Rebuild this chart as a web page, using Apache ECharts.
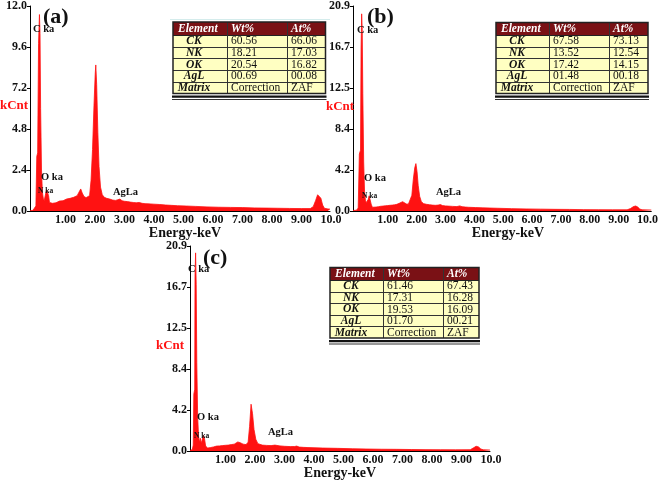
<!DOCTYPE html>
<html><head><meta charset="utf-8">
<script src="https://cdn.jsdelivr.net/npm/echarts@6/dist/echarts.min.js"></script>
<style>html,body{margin:0;padding:0;background:#fff}#c{width:661px;height:480px}</style>
</head><body><div id="c"></div>
<script>
// ---------- data ----------
const specA = [[0.00,0.02],[0.10,0.04],[0.16,0.08],[0.20,0.3],[0.23,3.2],[0.26,3.4],[0.29,9.8],[0.32,11.5],[0.34,10.4],[0.36,6.0],[0.39,2.4],[0.42,1.1],[0.45,0.75],[0.48,0.6],[0.52,0.7],[0.56,1.25],[0.6,1.29],[0.63,0.9],[0.66,0.5],[0.7,0.42],[0.76,0.45],[0.82,0.5],[0.88,0.48],[0.94,0.55],[1.0,0.58],[1.06,0.62],[1.12,0.6],[1.18,0.66],[1.24,0.7],[1.3,0.68],[1.36,0.74],[1.42,0.72],[1.48,0.8],[1.54,0.78],[1.6,0.9],[1.66,1.1],[1.72,1.29],[1.77,1.05],[1.83,0.85],[1.9,0.78],[1.96,0.74],[2.02,0.9],[2.07,1.8],[2.12,3.6],[2.17,6.2],[2.21,8.0],[2.23,8.55],[2.26,7.4],[2.3,4.6],[2.34,2.6],[2.39,1.4],[2.45,0.95],[2.52,0.8],[2.6,0.74],[2.7,0.7],[2.8,0.64],[2.9,0.62],[2.98,0.66],[3.05,0.7],[3.12,0.6],[3.2,0.57],[3.3,0.55],[3.4,0.52],[3.5,0.5],[3.6,0.48],[3.7,0.5],[3.8,0.45],[3.9,0.43],[4.0,0.42],[4.2,0.4],[4.4,0.38],[4.6,0.35],[4.8,0.33],[5.0,0.31],[5.3,0.29],[5.6,0.27],[6.0,0.24],[6.4,0.22],[6.8,0.21],[7.2,0.2],[7.6,0.18],[8.0,0.17],[8.4,0.16],[8.8,0.15],[9.2,0.14],[9.5,0.14],[9.6,0.25],[9.68,0.6],[9.75,0.95],[9.8,0.98],[9.86,0.75],[9.92,0.35],[9.98,0.16],[10.1,0.12],[10.17,0.11]];
const specB = [[0.00,0.05],[0.12,0.08],[0.18,0.3],[0.22,5.8],[0.26,6.2],[0.28,16.5],[0.30,20.1],[0.32,18.5],[0.34,12.0],[0.37,5.0],[0.40,2.0],[0.43,1.1],[0.46,0.85],[0.5,0.8],[0.53,1.2],[0.56,1.55],[0.6,1.4],[0.63,0.7],[0.67,0.38],[0.72,0.35],[0.8,0.4],[0.88,0.44],[0.96,0.48],[1.04,0.5],[1.12,0.53],[1.2,0.55],[1.28,0.58],[1.36,0.6],[1.44,0.63],[1.52,0.68],[1.6,0.78],[1.66,0.92],[1.72,0.95],[1.78,0.8],[1.85,0.72],[1.92,0.7],[1.98,0.82],[2.04,1.6],[2.09,3.2],[2.14,4.4],[2.18,4.83],[2.22,4.0],[2.26,2.6],[2.31,1.5],[2.37,0.95],[2.45,0.75],[2.55,0.68],[2.65,0.64],[2.75,0.6],[2.85,0.58],[2.95,0.6],[3.03,0.65],[3.1,0.56],[3.2,0.52],[3.3,0.5],[3.45,0.47],[3.6,0.45],[3.7,0.52],[3.78,0.44],[3.9,0.4],[4.0,0.38],[4.25,0.35],[4.5,0.32],[4.75,0.3],[5.0,0.28],[5.5,0.24],[6.0,0.21],[6.5,0.19],[7.0,0.17],[7.5,0.16],[8.0,0.14],[8.5,0.13],[9.0,0.12],[9.5,0.12],[9.62,0.25],[9.72,0.45],[9.8,0.51],[9.87,0.4],[9.94,0.2],[10.02,0.12],[10.34,0.1]];
const specC = [[0.00,0.05],[0.08,0.15],[0.11,0.6],[0.13,5.8],[0.16,6.3],[0.17,17.8],[0.19,20.2],[0.21,17.0],[0.23,9.0],[0.26,3.5],[0.29,1.5],[0.32,0.9],[0.35,1.3],[0.38,0.8],[0.41,1.1],[0.45,1.6],[0.49,1.3],[0.53,0.5],[0.6,0.3],[0.7,0.35],[0.8,0.42],[0.9,0.5],[1.0,0.52],[1.1,0.55],[1.2,0.58],[1.3,0.6],[1.4,0.65],[1.5,0.7],[1.55,0.8],[1.62,0.92],[1.7,0.85],[1.8,0.7],[1.9,0.65],[1.97,0.9],[2.02,2.5],[2.07,4.77],[2.12,3.8],[2.17,2.2],[2.23,1.2],[2.3,0.75],[2.45,0.6],[2.6,0.57],[2.75,0.55],[2.88,0.6],[2.94,0.65],[3.05,0.52],[3.2,0.48],[3.4,0.45],[3.55,0.46],[3.62,0.5],[3.7,0.4],[3.85,0.37],[4.0,0.35],[4.5,0.3],[5.0,0.27],[5.5,0.23],[6.0,0.2],[6.5,0.18],[7.0,0.17],[7.5,0.15],[8.0,0.14],[8.5,0.13],[9.0,0.12],[9.5,0.13],[9.6,0.3],[9.7,0.48],[9.78,0.42],[9.86,0.2],[9.95,0.12],[10.17,0.1]];

const yMaxA = 12.0, yStepA = 2.4;
const yMaxBC = 20.9, yStepBC = 4.18;
const xTickLabels = [1,2,3,4,5,6,7,8,9,10];

const tableHeader = ['Element','Wt%','At%'];
const elements = ['CK','NK','OK','AgL','Matrix'];
const wtA = ['60.56','18.21','20.54','00.69','Correction'];
const atA = ['66.06','17.03','16.82','00.08','ZAF'];
const wtB = ['67.58','13.52','17.42','01.48','Correction'];
const atB = ['73.13','12.54','14.15','00.18','ZAF'];
const wtC = ['61.46','17.31','19.53','01.70','Correction'];
const atC = ['67.43','16.28','16.09','00.21','ZAF'];

const panelLabels = ['(a)','(b)','(c)'];
const peakLabels = ['C ka','O ka','N ka','AgLa'];

// ---------- chart ----------
const SERIF = '"Liberation Serif", "DejaVu Serif", serif';
const RED = '#ff1212';
const chart = echarts.init(document.getElementById('c'), null, {renderer:'canvas'});

function xAxisDef(gi, max){
  return {
    type:'value', gridIndex:gi, min:0, max:max, interval:1,
    axisLine:{show:true, onZero:false, lineStyle:{color:'#000', width:1}},
    axisTick:{show:false},
    splitLine:{show:false},
    axisLabel:{
      customValues: xTickLabels,
      formatter: v => v === 10 ? '10.0' : v.toFixed(2),
      color:'#111', fontFamily:SERIF, fontWeight:'bold', fontSize:12,
      margin:3, padding:[0,0,0,12], showMaxLabel:true
    }
  };
}
function yAxisDef(gi, max, step){
  return {
    type:'value', gridIndex:gi, min:0, max:max, interval:step,
    axisLine:{show:true, lineStyle:{color:'#000', width:1}},
    axisTick:{show:true, length:3, lineStyle:{color:'#000'}},
    splitLine:{show:false},
    axisLabel:{formatter: v => v.toFixed(1), color:'#111', fontFamily:SERIF, fontWeight:'bold', fontSize:12, margin:3}
  };
}
function spec(gi, data){
  return {type:'line', xAxisIndex:gi, yAxisIndex:gi, data:data, showSymbol:false, symbol:'none',
    lineStyle:{color:RED, width:0.8}, areaStyle:{color:RED, opacity:1}, silent:true, animation:false, z:2};
}

function txt(t, x, y, font, fill, align){
  return {type:'text', z:10, style:{text:t, x:x, y:y, font:font, fill:fill||'#111', textAlign:align||'left', textVerticalAlign:'middle'}};
}

function table(x0, y0, cw, hh, rh, wt, at){
  const g = [];
  const W = cw[0]+cw[1]+cw[2], H = hh + rh*5;
  g.push({type:'rect', z:5, shape:{x:x0, y:y0, width:W, height:H}, style:{fill:'#ffffc2'}});
  g.push({type:'rect', z:5, shape:{x:x0, y:y0, width:W, height:hh}, style:{fill:'#7a1115'}});
  for (let i=1;i<5;i++){
    const yy = Math.round(y0+hh+rh*i)+0.5;
    g.push({type:'line', z:6, shape:{x1:x0, y1:yy, x2:x0+W, y2:yy}, style:{stroke:'#333', lineWidth:1}});
  }
  const yh = Math.round(y0+hh)+0.5;
  g.push({type:'line', z:6, shape:{x1:x0, y1:yh, x2:x0+W, y2:yh}, style:{stroke:'#222', lineWidth:1}});
  [cw[0], cw[0]+cw[1]].forEach(dx=>{
    const xx = Math.round(x0+dx)+0.5;
    g.push({type:'line', z:6, shape:{x1:xx, y1:y0, x2:xx, y2:y0+H}, style:{stroke:'#333', lineWidth:1}});
  });
  g.push({type:'rect', z:7, shape:{x:x0, y:y0, width:W, height:H}, style:{fill:null, stroke:'#222', lineWidth:1.5}});
  g.push({type:'rect', z:7, shape:{x:x0-1, y:y0+H+2, width:W+2, height:2.2}, style:{fill:'#111'}});
  g.push({type:'rect', z:7, shape:{x:x0-1, y:y0+H+5.5, width:W+2, height:1}, style:{fill:'#333'}});
  const fH = 'italic bold 11.5px '+SERIF;
  g.push(txt(tableHeader[0], x0+5, y0+hh/2+0.5, fH, '#fff'));
  g.push(txt(tableHeader[1], x0+cw[0]+4, y0+hh/2+0.5, fH, '#fff'));
  g.push(txt(tableHeader[2], x0+cw[0]+cw[1]+4, y0+hh/2+0.5, fH, '#fff'));
  for (let i=0;i<5;i++){
    const yc = y0+hh+rh*i+rh/2+0.5;
    g.push(txt(elements[i], x0+21, yc, 'italic bold 11.5px '+SERIF, '#111', 'center'));
    g.push(txt(wt[i], x0+cw[0]+4, yc, '11.5px '+SERIF, '#111'));
    g.push(txt(at[i], x0+cw[0]+cw[1]+4, yc, '11.5px '+SERIF, '#111'));
  }
  return g;
}

function annotations(p, pos){
  // pos: [panel label xy, C, O, N, AgLa, kCnt center, Energy center]
  const g = [];
  g.push(txt(panelLabels[p], pos[0][0], pos[0][1], 'bold 22px '+SERIF, '#111'));
  g.push(txt(peakLabels[0], pos[1][0], pos[1][1], 'bold 10.5px '+SERIF, '#111'));
  g.push(txt(peakLabels[1], pos[2][0], pos[2][1], 'bold 10.5px '+SERIF, '#111'));
  g.push(txt(peakLabels[2], pos[3][0], pos[3][1], 'bold 7.5px '+SERIF, '#111'));
  g.push(txt(peakLabels[3], pos[4][0], pos[4][1], 'bold 10.5px '+SERIF, '#111'));
  g.push(txt('kCnt', pos[5][0], pos[5][1], 'bold 13px '+SERIF, RED, 'center'));
  g.push(txt('Energy-keV', pos[6][0], pos[6][1], 'bold 14px '+SERIF, '#111', 'center'));
  return g;
}

const graphics = [].concat(
  [{type:'line', z:4, shape:{x1:170, y1:19.5, x2:330, y2:19.5}, style:{stroke:'#d4ecec', lineWidth:1}}],
  table(173, 22, [54,60,38.5], 13, 11.7, wtA, atA),
  table(496, 22.5, [53,60,39], 12.5, 11.7, wtB, atB),
  table(330, 267.5, [53,60,36], 12.5, 11.6, wtC, atC),
  annotations(0, [[43,17],[33,29],[41,177],[38,191],[113,192],[14,106],[185,233]]),
  annotations(1, [[367,17],[357,30],[364,178],[362,196],[436,192],[340,107],[508,233]]),
  annotations(2, [[203,258],[188,269],[197,417],[194,436],[268,432],[170,346],[340,473]])
);

const option = {
  animation:false,
  backgroundColor:'#fff',
  grid:[
    {left:30, top:6, width:300, height:205},
    {left:353, top:6, width:305, height:205},
    {left:190, top:246, width:300, height:205}
  ],
  xAxis:[xAxisDef(0, 10.17), xAxisDef(1, 10.34), xAxisDef(2, 10.17)],
  yAxis:[yAxisDef(0, yMaxA, yStepA), yAxisDef(1, yMaxBC, yStepBC), yAxisDef(2, yMaxBC, yStepBC)],
  series:[spec(0, specA), spec(1, specB), spec(2, specC)],
  graphic: graphics
};
chart.setOption(option);
</script></body></html>
